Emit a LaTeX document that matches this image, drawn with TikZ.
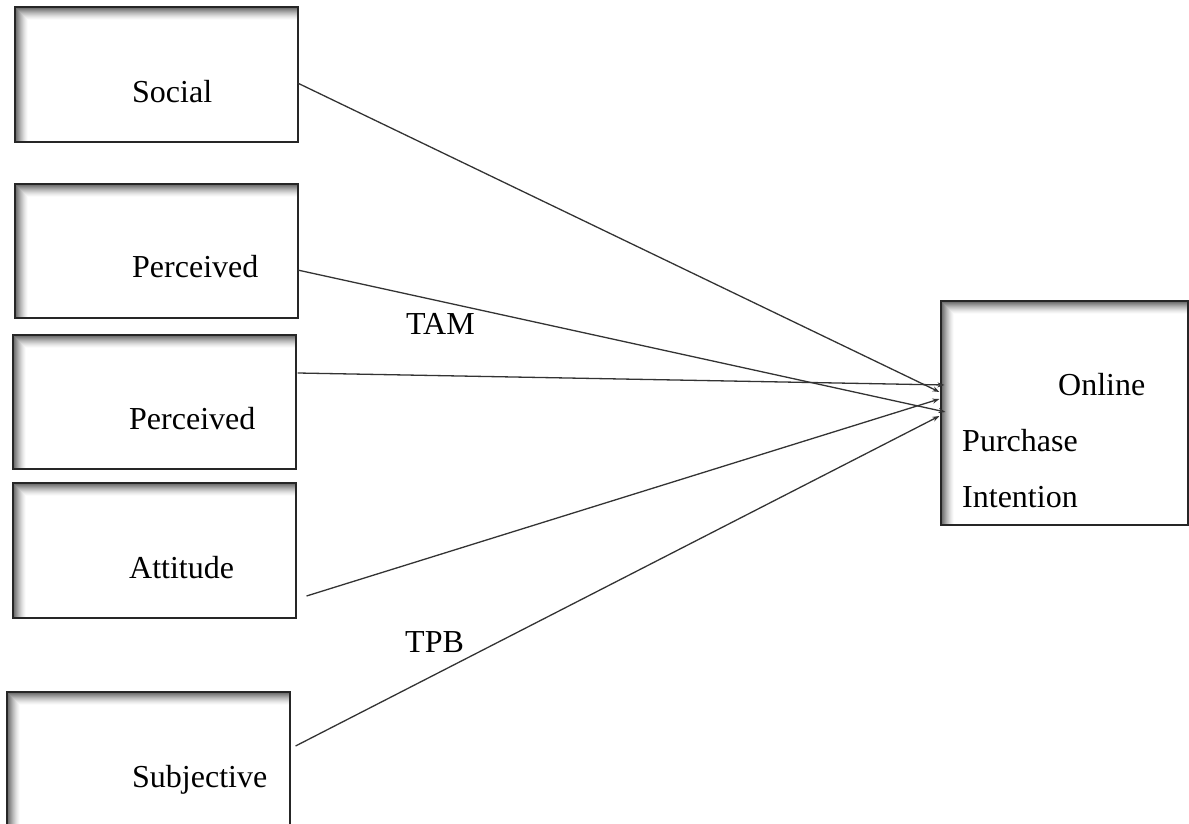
\documentclass[tikz,border=0pt]{standalone}
\usepackage{fontspec}
\setmainfont{Liberation Serif}
\usetikzlibrary{arrows.meta,calc}
\tikzset{
  shbox/.style={draw=black!85, line width=1.1pt, fill=white, minimum width=#1, inner sep=0pt,
    path picture={
      \foreach \i in {0,...,12} {
        \pgfmathsetmacro\c{62*(1-\i/13)^1.4}
        \draw[line width=1.15pt, draw=black!\c]
          ([xshift={(\i+0.5)*1pt}]path picture bounding box.south west)
          |- ([yshift={-(\i+0.5)*1pt}]path picture bounding box.north east);
      }
    }},
  lbl/.style={anchor=base west, inner sep=0pt, font=\fontsize{32}{38}\selectfont},
  conn/.style={draw=black!80, line width=1.3pt, -{Stealth[length=7pt,width=5pt]}}
}
\begin{document}
\begin{tikzpicture}[x=1pt,y=1pt]
\useasboundingbox (0,0) rectangle (1189,823);
% boxes
\node[shbox=283pt, minimum height=135pt] (s1) at (156.5,748.5) {};
\node[shbox=283pt, minimum height=134pt] (p1) at (156.5,572) {};
\node[shbox=283pt, minimum height=134pt] (p2) at (154.5,421) {};
\node[shbox=283pt, minimum height=135pt] (a1) at (154.5,272.5) {};
\node[shbox=283pt, minimum height=134pt] (sj) at (148.5,64) {};
\node[shbox=247pt, minimum height=224pt] (on) at (1064.5,410) {};
% texts
\node[lbl] (ts1) at (132,720) {Social};
\node[lbl] (tp1) at (132,545) {Perceived};
\node[lbl] (tp2) at (129,393) {Perceived};
\node[lbl] (ta1) at (129,245) {Attitude};
\node[lbl] (tsj) at (132,36) {Subjective};
\node[lbl] (to1) at (1058,427) {Online};
\node[lbl] (to2) at (962,371) {Purchase};
\node[lbl] (to3) at (962,316) {Intention};
\node[lbl] (tam) at (406,488) {TAM};
\node[lbl] (tpb) at (405,171) {TPB};
% connectors
\draw[conn] ([xshift=-1pt,yshift=-8.5pt]s1.east) -- ([xshift=-1pt,yshift=21pt]on.west);
\draw[conn] ([xshift=-1pt,yshift=-19pt]p1.east) -- ([xshift=5pt,yshift=1pt]on.west);
\draw[conn] ([xshift=1pt,yshift=29pt]p2.east) -- ([xshift=4pt,yshift=28pt]on.west);
\draw[conn] ([xshift=10pt,yshift=-45.5pt]a1.east) -- ([xshift=-1pt,yshift=14pt]on.west);
\draw[conn] ([xshift=5pt,yshift=13pt]sj.east) -- ([xshift=-1pt,yshift=-3pt]on.west);
\end{tikzpicture}
\end{document}
